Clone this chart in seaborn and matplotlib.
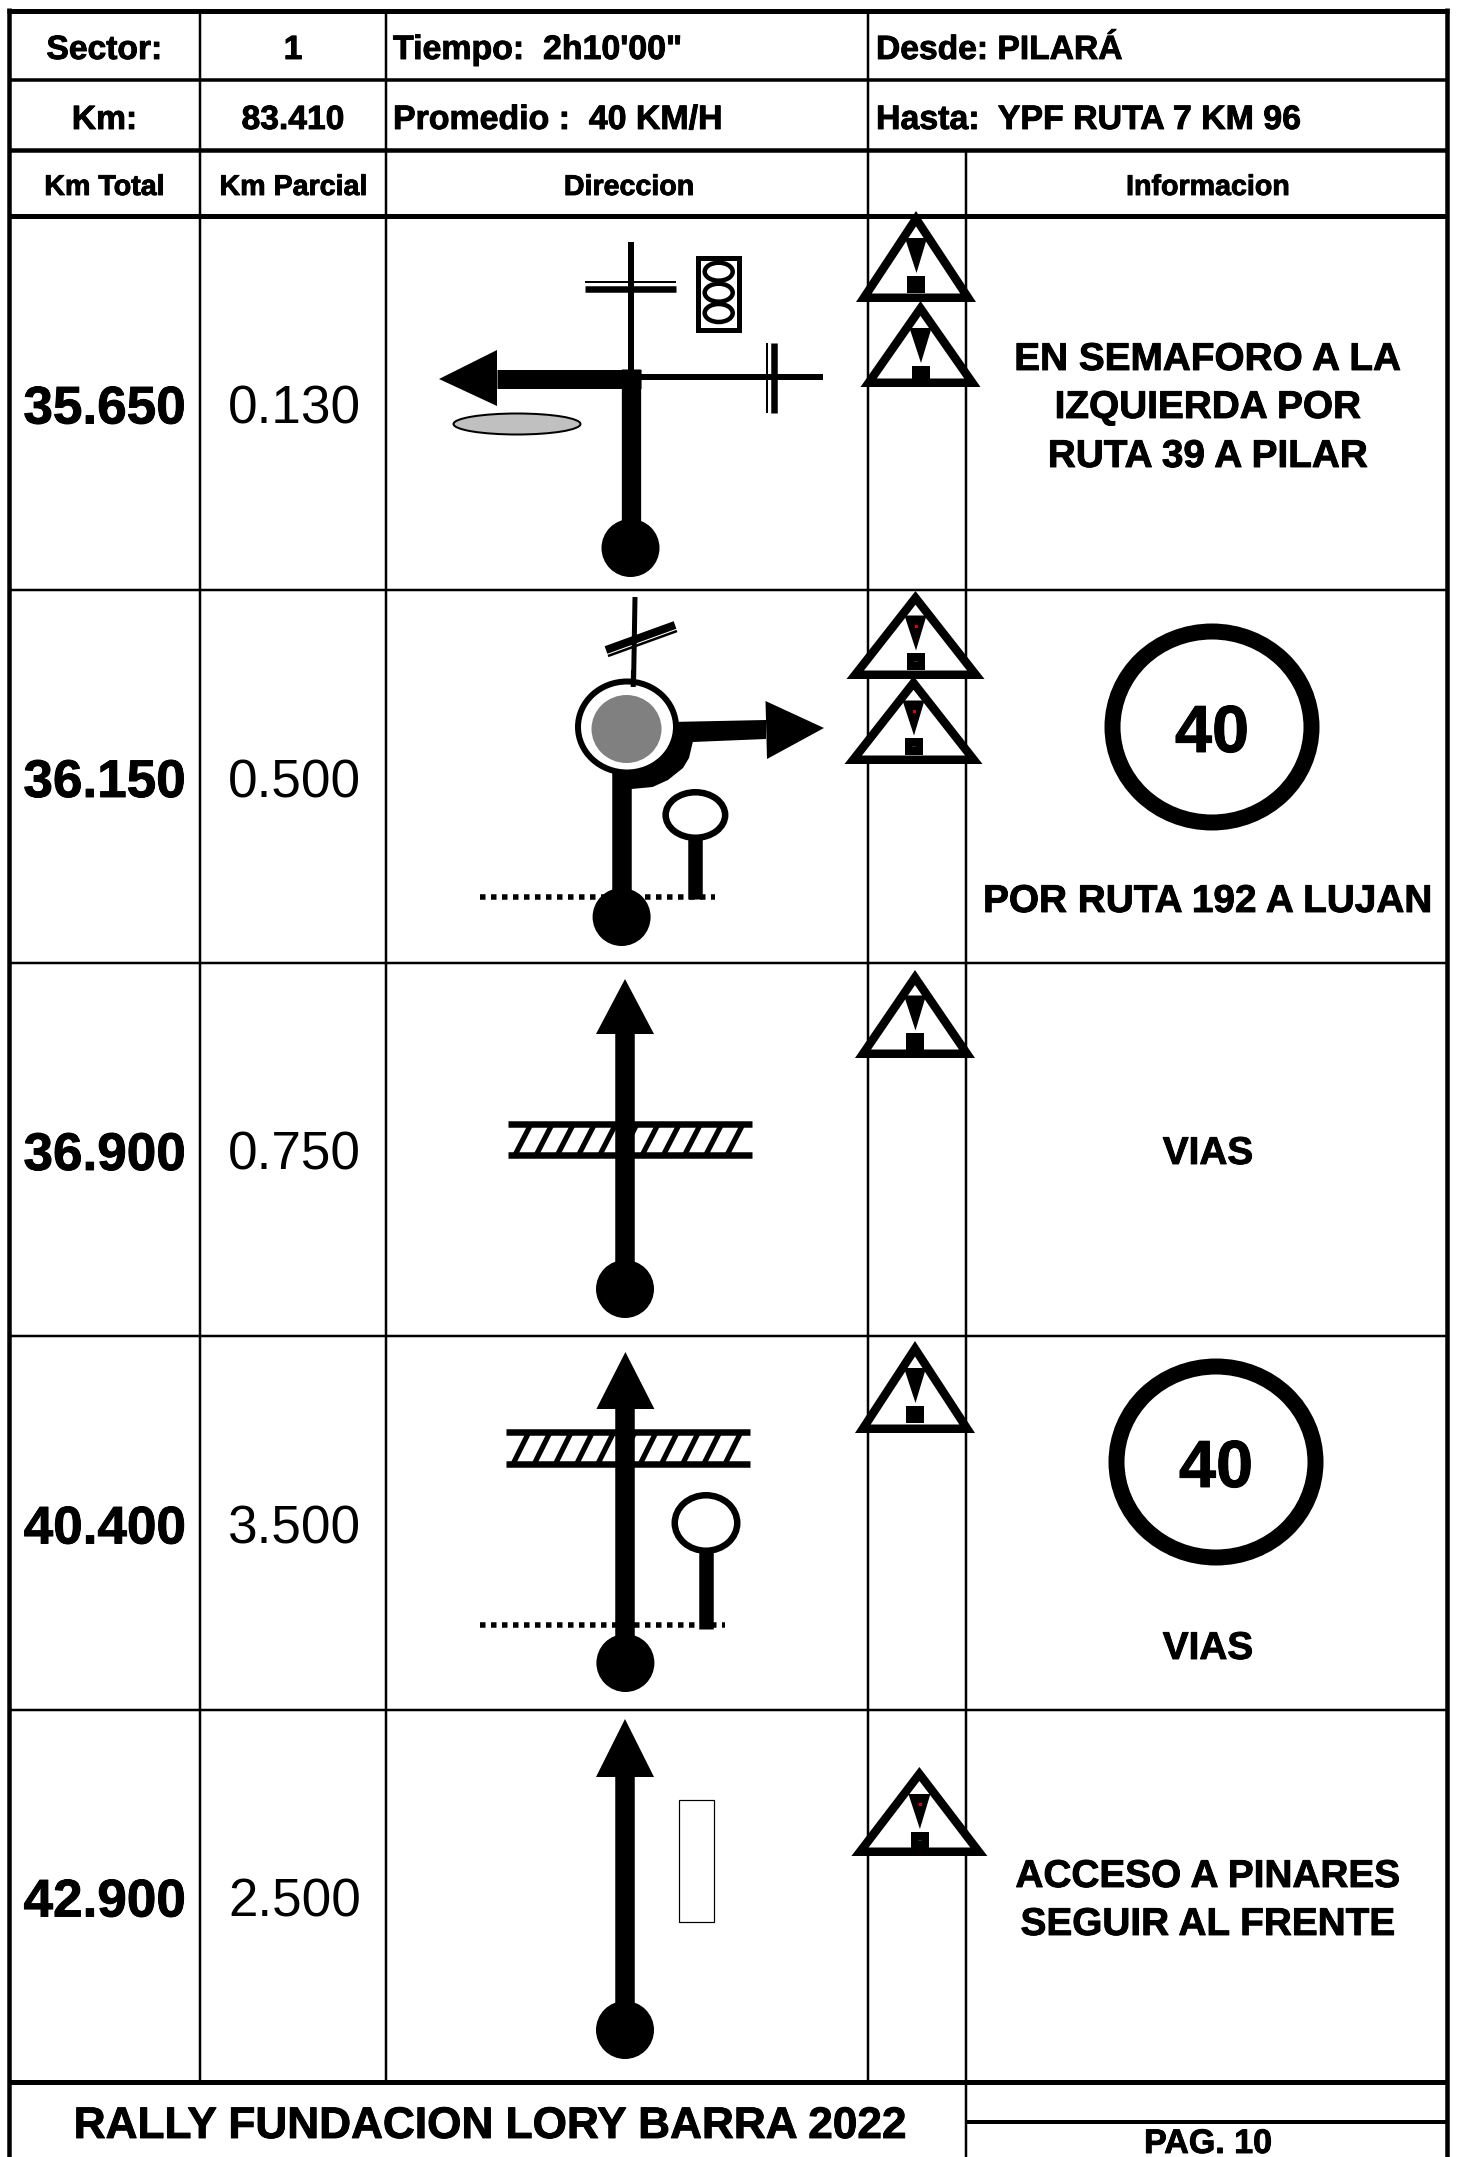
import matplotlib
matplotlib.use("Agg")
import matplotlib.pyplot as plt
import matplotlib.patheffects as pe
import seaborn as sns
from matplotlib.patches import Circle, Ellipse, Polygon, Rectangle

sns.set_theme(style="white")
plt.rcParams["font.family"] = ["Liberation Sans", "DejaVu Sans"]

W, H = 1458, 2157

# data
km_total = ["35.650", "36.150", "36.900", "40.400", "42.900"]
km_parcial = ["0.130", "0.500", "0.750", "3.500", "2.500"]
header_row1 = ["Sector:", "1"]
header_row2 = ["Km:", "83.410"]
col_titles = ["Km Total", "Km Parcial", "Direccion", "Informacion"]
tiempo = "Tiempo:  2h10'00\""
promedio = "Promedio :  40 KM/H"
desde = "Desde: PILARÁ"
hasta = "Hasta:  YPF RUTA 7 KM 96"
footer = "RALLY FUNDACION LORY BARRA 2022"
page = "PAG. 10"
speed_limit = "40"

info_text = ["EN SEMAFORO A LA", "IZQUIERDA POR", "RUTA 39 A PILAR",
             "POR RUTA 192 A LUJAN", "VIAS", "VIAS",
             "ACCESO A PINARES", "SEGUIR AL FRENTE"]
info_y = [356, 404, 453, 898, 1150, 1645, 1873, 1921]

# layout, in reference pixels
row_y = [216, 590, 963, 1336, 1710, 2082]
col_x = [200, 386.5, 868, 966.5]
left, right = 9, 1447

# warning triangles: centre x, apex y, base y, half width, mark shift, tint of the marks
tri_x = [916, 920.5, 915.5, 913.5, 915, 915, 919.4]
tri_apex = [211, 301, 591, 676, 970, 1341, 1767]
tri_base = [302, 387, 679, 764, 1058, 1433, 1856]
tri_half = [60, 60, 69, 69, 60, 60, 68]
tri_shift = [0, 0, -2.5, -2.5, -1.5, 0, 0]
tri_red = [False, False, True, True, False, False, True]


def px(n):
    return n * 0.72


fig, ax = plt.subplots(figsize=(W / 100, H / 100), dpi=100)
fig.subplots_adjust(0, 0, 1, 1)
ax.set_xlim(0, W)
ax.set_ylim(H, 0)
ax.set_axis_off()
sns.despine(ax=ax, left=True, bottom=True)


def line(x, y, w, color="black", z=2, cap="butt"):
    ax.plot(x, y, color=color, lw=px(w), solid_capstyle=cap, zorder=z)


def label(x, y, s, size, bold=True, ha="center"):
    t = ax.text(x, y, s, fontsize=size, fontweight="bold" if bold else "normal",
                ha=ha, va="center_baseline", color="black", zorder=6)
    if bold:
        t.set_path_effects([pe.withStroke(linewidth=px(0.9), foreground="black")])


def warning(cx, apex, base, half, shift, red, t=8.5):
    h = base - apex
    side = (half ** 2 + h ** 2) ** 0.5
    r = half * h / (half + side)
    k = 1 - t / r
    iy = base - r
    ax.add_patch(Polygon([(cx, apex), (cx - half, base), (cx + half, base)],
                         fc="black", ec="none", zorder=3))
    ax.add_patch(Polygon([(cx, iy + (apex - iy) * k),
                          (cx - half * k, iy + (base - iy) * k),
                          (cx + half * k, iy + (base - iy) * k)],
                         fc="white", ec="none", zorder=3))
    m = apex + shift
    ax.add_patch(Polygon([(cx - 11, m + 27), (cx + 11, m + 27), (cx + 0.5, m + 62)],
                         fc="black", ec="none", zorder=4))
    ax.add_patch(Rectangle((cx - 8.5, m + 64.5), 18, 17, fc="black", ec="none", zorder=4))
    if red:
        ax.add_patch(Rectangle((cx, m + 36), 2.5, 3, fc="#e00000", ec="none", zorder=5))
        ax.add_patch(Rectangle((cx - 1, m + 72.5), 4, 1, fc="#0a4a0a", ec="none", zorder=5))


def dot(cx, cy, r=29):
    ax.add_patch(Circle((cx, cy), r, fc="black", ec="none", zorder=4))


def arrow_up(cx, tip, head, bottom):
    ax.add_patch(Polygon([(cx, tip), (cx - 29, head), (cx + 29, head)],
                         fc="black", ec="none", zorder=4))
    line([cx, cx], [head, bottom], 19.5, z=4)


def rails(x0, x1, y0, y1, first, n):
    line([x0, x1], [y0, y0], 6.5, z=3)
    line([x0, x1], [y1, y1], 6.5, z=3)
    for i in range(n):
        xb = first + i * 21.2
        line([xb, xb + 16], [y1, y0], 5.2, z=3)


def sign(cx, cy, rx, ry, stem_top, stem_bot):
    ax.add_patch(Ellipse((cx, cy), 2 * rx - 6.5, 2 * ry - 6.5, fc="white",
                         ec="black", lw=px(6.5), zorder=4))
    line([cx, cx], [stem_top, stem_bot], 14.5, z=4)


def dotted(x0, x1, y):
    ax.plot([x0, x1], [y, y], color="black", lw=px(5.5), zorder=3,
            dash_capstyle="butt", linestyle=(0, (1.0, 1.0)))


# table frame
line([left, left], [8, H], 4.5)
line([right, right], [8, H], 4.5)
line([left - 2, right + 2], [10.5, 10.5], 5)
line([left, right], [80, 80], 3.5)
line([left, right], [150, 150], 4.5)
line([left, right], [216, 216], 5)
for y in row_y[1:-1]:
    line([left, right], [y, y], 2.5)
line([left, right], [row_y[-1], row_y[-1]], 5)

line([col_x[0], col_x[0]], [10, row_y[-1]], 2.5)
line([col_x[1], col_x[1]], [10, row_y[-1]], 2.5)
line([col_x[2], col_x[2]], [10, row_y[-1]], 2.5)
line([col_x[3], col_x[3]], [150, H], 2.5)
line([col_x[3], right], [2122, 2122], 4)

# header text
label(104.5, 47, header_row1[0], 24.2)
label(293, 47, header_row1[1], 24.2)
label(104.5, 117, header_row2[0], 24.2)
label(293, 117, header_row2[1], 24.2)
label(393, 47, tiempo, 24.4, ha="left")
label(393, 117, promedio, 24.4, ha="left")
label(876, 47, desde, 24.2, ha="left")
label(876, 117, hasta, 24.4, ha="left")
label(104.5, 184, col_titles[0], 20.6)
label(293.5, 184, col_titles[1], 20.6)
label(629, 184, col_titles[2], 20.6)
label(1208, 184, col_titles[3], 20.6)

# km columns
for i in range(len(km_total)):
    yc = (row_y[i] + row_y[i + 1]) / 2 + 1
    label(104.5, yc, km_total[i], 38.2)
    label(294.5, yc, km_parcial[i], 38.2, bold=False)

# information column
for s, y in zip(info_text, info_y):
    label(1208, y, s, 27.9)

# row 1: left at traffic light
line([630.8, 630.8], [242, 378], 6)
line([632, 823], [377, 377], 6)
line([585, 675.7], [282, 282], 2)
line([585, 675.7], [288.5, 288.5], 6.5)
line([767, 767], [343, 413], 2)
line([774, 774], [343, 413], 6.5)
ax.add_patch(Rectangle((698.5, 257.5), 40.5, 72, fc="white", ec="black", lw=px(5), zorder=3))
for cy in [271.7, 292.7, 313]:
    ax.add_patch(Ellipse((718.7, cy), 28, 18, fc="white", ec="black", lw=px(4.5), zorder=4))
line([631.3, 631.3], [369, 525], 19.3, z=4)
line([497, 641], [378.7, 378.7], 19, z=4)
ax.add_patch(Polygon([(439, 379), (497, 350), (497, 406)], fc="black", ec="none", zorder=4))
dot(630.5, 548)
ax.add_patch(Ellipse((517, 424), 127, 21, fc="#c0c0c0", ec="black", lw=px(2), zorder=3))

# row 2: roundabout, right exit
line([635, 633.5], [597, 687], 5)
line([606, 675], [650, 625], 8, z=3)
line([608, 677], [656, 631], 2.5, z=3)
ax.add_patch(Polygon([(612, 772), (631.5, 789), (652.6, 787), (668, 780), (683, 768),
                      (689, 758), (692.8, 742), (766, 739), (766, 720), (670, 722),
                      (640, 745)], fc="black", ec="none", zorder=3))
ax.add_patch(Polygon([(824, 728), (765.5, 701), (767, 759)], fc="black", ec="none", zorder=3))
line([621.8, 621.8], [772, 895], 19.5, z=4)
ax.add_patch(Ellipse((627, 727), 98, 91, fc="white", ec="black", lw=px(6), zorder=3.5))
ax.add_patch(Ellipse((626.5, 729), 70, 68, fc="#808080", ec="none", zorder=4))
line([633.5, 633.2], [670, 687], 5, z=4)
dotted(480, 715, 897)
sign(695.4, 815, 33, 26, 838, 899)
dot(621.6, 917)

# row 3: rail crossing
arrow_up(625, 979, 1034, 1270)
rails(508, 752, 1124, 1155, 515, 11)
dot(625, 1289)

# row 4: rail crossing and sign
arrow_up(625.4, 1352, 1409, 1640)
rails(506, 750, 1432, 1464, 513, 11)
dotted(480, 725, 1625)
sign(706, 1523, 34.5, 31, 1550, 1629)
dot(625.4, 1663)

# row 5: straight on
arrow_up(625, 1719, 1777, 2005)
ax.add_patch(Rectangle((679.5, 1800), 34.5, 122, fc="white", ec="black", lw=px(1.2), zorder=3))
dot(625, 2030)

# warnings
for x, a, b, hw, sh, red in zip(tri_x, tri_apex, tri_base, tri_half, tri_shift, tri_red):
    warning(x, a, b, hw, sh, red)

# speed limits
for cx, cy in [(1212, 727), (1216, 1462)]:
    ax.add_patch(Ellipse((cx, cy), 199, 191, fc="white", ec="black", lw=px(16), zorder=3))
    label(cx, cy + 1, speed_limit, 48)

# footer
label(489.7, 2122, footer, 31.8)
label(1208, 2141, page, 24.5)

fig.savefig("out.png", dpi=100, facecolor="white")
